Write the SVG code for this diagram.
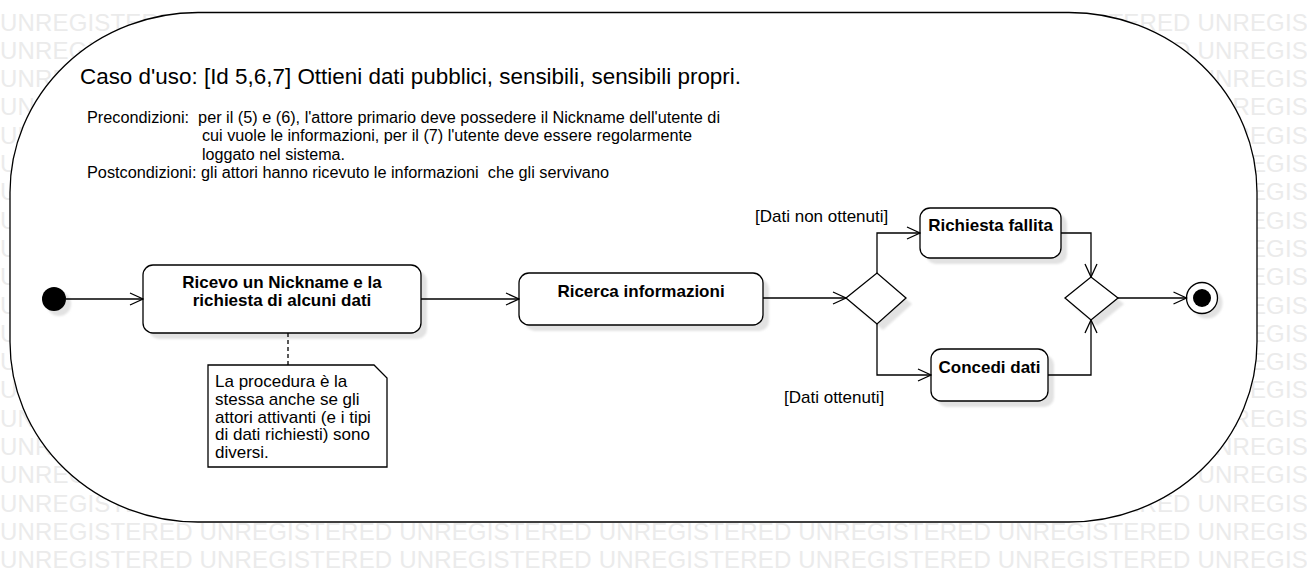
<svg xmlns="http://www.w3.org/2000/svg" width="1307" height="572" viewBox="0 0 1307 572">
<defs>
<style>
.wm{font-family:"Liberation Sans",Arial,sans-serif;font-size:24px;fill:#ebebeb}
.t{font-family:"Liberation Sans",Arial,sans-serif;fill:#000}
.b{font-weight:bold;font-size:17px;text-anchor:middle}
.lbl{font-size:17px}
.pre{font-size:16px;white-space:pre}
.shape{fill:#fff;stroke:#000;stroke-width:1.3}
.shd{fill:#e2e2e2;filter:url(#blur)}
.conn{fill:none;stroke:#000;stroke-width:1.3}
</style>
<filter id="blur" x="-20%" y="-20%" width="140%" height="140%"><feGaussianBlur stdDeviation="1.3"/></filter>
<marker id="arr" viewBox="-14 -7 15 14" refX="0" refY="0" markerWidth="15" markerHeight="14" markerUnits="userSpaceOnUse" orient="auto">
<path d="M-13,-6 L0,0 L-13,6" fill="none" stroke="#000" stroke-width="1.3"/>
</marker>
</defs>
<rect width="1307" height="572" fill="#fff"/>
<g id="watermark">
<text class="wm" x="0" y="30.5" textLength="1390" lengthAdjust="spacing">UNREGISTERED UNREGISTERED UNREGISTERED UNREGISTERED UNREGISTERED UNREGISTERED UNREGISTERED</text>
<text class="wm" x="0" y="58.8" textLength="1390" lengthAdjust="spacing">UNREGISTERED UNREGISTERED UNREGISTERED UNREGISTERED UNREGISTERED UNREGISTERED UNREGISTERED</text>
<text class="wm" x="0" y="87.1" textLength="1390" lengthAdjust="spacing">UNREGISTERED UNREGISTERED UNREGISTERED UNREGISTERED UNREGISTERED UNREGISTERED UNREGISTERED</text>
<text class="wm" x="0" y="115.4" textLength="1390" lengthAdjust="spacing">UNREGISTERED UNREGISTERED UNREGISTERED UNREGISTERED UNREGISTERED UNREGISTERED UNREGISTERED</text>
<text class="wm" x="0" y="143.7" textLength="1390" lengthAdjust="spacing">UNREGISTERED UNREGISTERED UNREGISTERED UNREGISTERED UNREGISTERED UNREGISTERED UNREGISTERED</text>
<text class="wm" x="0" y="172" textLength="1390" lengthAdjust="spacing">UNREGISTERED UNREGISTERED UNREGISTERED UNREGISTERED UNREGISTERED UNREGISTERED UNREGISTERED</text>
<text class="wm" x="0" y="200.3" textLength="1390" lengthAdjust="spacing">UNREGISTERED UNREGISTERED UNREGISTERED UNREGISTERED UNREGISTERED UNREGISTERED UNREGISTERED</text>
<text class="wm" x="0" y="228.6" textLength="1390" lengthAdjust="spacing">UNREGISTERED UNREGISTERED UNREGISTERED UNREGISTERED UNREGISTERED UNREGISTERED UNREGISTERED</text>
<text class="wm" x="0" y="256.9" textLength="1390" lengthAdjust="spacing">UNREGISTERED UNREGISTERED UNREGISTERED UNREGISTERED UNREGISTERED UNREGISTERED UNREGISTERED</text>
<text class="wm" x="0" y="285.2" textLength="1390" lengthAdjust="spacing">UNREGISTERED UNREGISTERED UNREGISTERED UNREGISTERED UNREGISTERED UNREGISTERED UNREGISTERED</text>
<text class="wm" x="0" y="313.5" textLength="1390" lengthAdjust="spacing">UNREGISTERED UNREGISTERED UNREGISTERED UNREGISTERED UNREGISTERED UNREGISTERED UNREGISTERED</text>
<text class="wm" x="0" y="341.8" textLength="1390" lengthAdjust="spacing">UNREGISTERED UNREGISTERED UNREGISTERED UNREGISTERED UNREGISTERED UNREGISTERED UNREGISTERED</text>
<text class="wm" x="0" y="370.1" textLength="1390" lengthAdjust="spacing">UNREGISTERED UNREGISTERED UNREGISTERED UNREGISTERED UNREGISTERED UNREGISTERED UNREGISTERED</text>
<text class="wm" x="0" y="398.4" textLength="1390" lengthAdjust="spacing">UNREGISTERED UNREGISTERED UNREGISTERED UNREGISTERED UNREGISTERED UNREGISTERED UNREGISTERED</text>
<text class="wm" x="0" y="426.7" textLength="1390" lengthAdjust="spacing">UNREGISTERED UNREGISTERED UNREGISTERED UNREGISTERED UNREGISTERED UNREGISTERED UNREGISTERED</text>
<text class="wm" x="0" y="455" textLength="1390" lengthAdjust="spacing">UNREGISTERED UNREGISTERED UNREGISTERED UNREGISTERED UNREGISTERED UNREGISTERED UNREGISTERED</text>
<text class="wm" x="0" y="483.3" textLength="1390" lengthAdjust="spacing">UNREGISTERED UNREGISTERED UNREGISTERED UNREGISTERED UNREGISTERED UNREGISTERED UNREGISTERED</text>
<text class="wm" x="0" y="511.6" textLength="1390" lengthAdjust="spacing">UNREGISTERED UNREGISTERED UNREGISTERED UNREGISTERED UNREGISTERED UNREGISTERED UNREGISTERED</text>
<text class="wm" x="0" y="539.9" textLength="1390" lengthAdjust="spacing">UNREGISTERED UNREGISTERED UNREGISTERED UNREGISTERED UNREGISTERED UNREGISTERED UNREGISTERED</text>
<text class="wm" x="0" y="568.2" textLength="1390" lengthAdjust="spacing">UNREGISTERED UNREGISTERED UNREGISTERED UNREGISTERED UNREGISTERED UNREGISTERED UNREGISTERED</text>
</g>
<g id="frame">
<rect class="shape" x="10" y="12.5" width="1247" height="509.5" rx="188" ry="180"/>
<text class="t" x="80" y="84" font-size="22" textLength="661" lengthAdjust="spacingAndGlyphs">Caso d'uso: [Id 5,6,7] Ottieni dati pubblici, sensibili, sensibili propri.</text>
<text class="t pre" x="87" y="123" textLength="633" lengthAdjust="spacingAndGlyphs">Precondizioni:  per il (5) e (6), l'attore primario deve possedere il Nickname dell'utente di</text>
<text class="t pre" x="202" y="141.3" textLength="490" lengthAdjust="spacingAndGlyphs">cui vuole le informazioni, per il (7) l'utente deve essere regolarmente</text>
<text class="t pre" x="202" y="159.6" textLength="143" lengthAdjust="spacingAndGlyphs">loggato nel sistema.</text>
<text class="t pre" x="87" y="178" textLength="522" lengthAdjust="spacingAndGlyphs">Postcondizioni: gli attori hanno ricevuto le informazioni  che gli servivano</text>
</g>
<g id="start">
<circle class="shd" cx="59" cy="304" r="12"/>
<circle cx="54" cy="299" r="12" fill="#000"/>
</g>
<g id="ricevo">
<rect class="shd" x="149" y="271" width="278" height="68" rx="10"/>
<rect class="shape" x="143" y="265" width="278" height="68" rx="10"/>
<text class="t b" x="282" y="288.3">Ricevo un Nickname e la</text>
<text class="t b" x="282" y="305.7">richiesta di alcuni dati</text>
</g>
<g id="ricerca">
<rect class="shd" x="525" y="279" width="244" height="52" rx="10"/>
<rect class="shape" x="519" y="273" width="244" height="52" rx="10"/>
<text class="t b" x="641" y="296.5">Ricerca informazioni</text>
</g>
<g id="decision">
<path class="shd" d="M852,304 L883,279 L912,304 L883,330 Z"/>
<path class="shape" d="M846,298 L877,273 L906,298 L877,324 Z"/>
</g>
<g id="fallita">
<rect class="shd" x="926" y="214" width="141" height="50" rx="10"/>
<rect class="shape" x="920" y="208" width="141" height="50" rx="10"/>
<text class="t b" x="990.5" y="231">Richiesta fallita</text>
</g>
<g id="concedi">
<rect class="shd" x="937" y="355" width="117" height="52" rx="10"/>
<rect class="shape" x="931" y="349" width="117" height="52" rx="10"/>
<text class="t b" x="989.5" y="373">Concedi dati</text>
</g>
<g id="merge">
<path class="shd" d="M1071,304 L1097,283 L1124,304 L1097,326 Z"/>
<path class="shape" d="M1065,298 L1091,277 L1118,298 L1091,320 Z"/>
</g>
<g id="end">
<circle class="shd" cx="1207" cy="303" r="15.5"/>
<circle class="shape" cx="1202" cy="298" r="15.5"/>
<circle cx="1202" cy="298" r="9" fill="#000"/>
</g>
<g id="note">
<path class="shape" d="M208,365 H374 L387,378 V467 H208 Z"/>
<text class="t lbl" x="215" y="387">La procedura è la</text>
<text class="t lbl" x="215" y="404.8">stessa anche se gli</text>
<text class="t lbl" x="215" y="422.5">attori attivanti (e i tipi</text>
<text class="t lbl" x="215" y="440.3">di dati richiesti) sono</text>
<text class="t lbl" x="215" y="458">diversi.</text>
</g>
<g id="connectors">
<path class="conn" d="M66,299 H143" marker-end="url(#arr)"/>
<path class="conn" d="M421,299 H519" marker-end="url(#arr)"/>
<path class="conn" d="M763,298 H846" marker-end="url(#arr)"/>
<path class="conn" d="M877,273 V233 H920" marker-end="url(#arr)"/>
<path class="conn" d="M877,324 V375 H931" marker-end="url(#arr)"/>
<path class="conn" d="M1061,233 H1091 V277" marker-end="url(#arr)"/>
<path class="conn" d="M1048,375 H1091 V320" marker-end="url(#arr)"/>
<path class="conn" d="M1118,298 H1186.5" marker-end="url(#arr)"/>
<path class="conn" d="M288,333 V365" stroke-dasharray="4 3"/>
<text class="t lbl" x="755" y="222">[Dati non ottenuti]</text>
<text class="t lbl" x="784" y="402.5">[Dati ottenuti]</text>
</g>
</svg>
